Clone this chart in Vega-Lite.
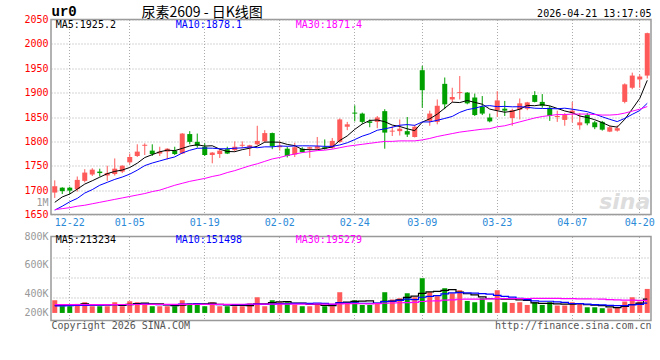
{
"$schema": "https://vega.github.io/schema/vega-lite/v6.json",
"background": "white",
"padding": {"left": 23, "top": 2.5, "right": 5, "bottom": 5},
"bounds": "flush",
"spacing": 22,
"data": {"values": [
{"d":"12-18","o":1695,"h":1720,"l":1684,"c":1708,"v":197000,"m5":1675,"m10":1659,"m30":1660,"vm5":115000,"vm10":108000,"vm30":128000},
{"d":"12-19","o":1705,"h":1706,"l":1692,"c":1698,"v":104000,"m5":1686,"m10":1667,"m30":1662,"vm5":118000,"vm10":110000,"vm30":128000},
{"d":"12-22","o":1705,"h":1707,"l":1692,"c":1699,"v":104000,"m5":1692,"m10":1676,"m30":1664,"vm5":120000,"vm10":112000,"vm30":128000},
{"d":"12-23","o":1702,"h":1728,"l":1697,"c":1721,"v":140000,"m5":1702,"m10":1683,"m30":1667,"vm5":130000,"vm10":115000,"vm30":129000},
{"d":"12-24","o":1719,"h":1743,"l":1716,"c":1736,"v":166000,"m5":1712.4,"m10":1694,"m30":1669,"vm5":142200,"vm10":118000,"vm30":129000},
{"d":"12-25","o":1732,"h":1745,"l":1729,"c":1742,"v":104000,"m5":1719.2,"m10":1701,"m30":1672,"vm5":123600,"vm10":120000,"vm30":129000},
{"d":"12-26","o":1738,"h":1744,"l":1728,"c":1735,"v":104000,"m5":1726.6,"m10":1710,"m30":1675,"vm5":123600,"vm10":122000,"vm30":130000},
{"d":"12-29","o":1730,"h":1750,"l":1719,"c":1735,"v":104000,"m5":1733.8,"m10":1716,"m30":1678,"vm5":123600,"vm10":125000,"vm30":130000},
{"d":"12-30","o":1733,"h":1765,"l":1730,"c":1744,"v":166000,"m5":1738.4,"m10":1722,"m30":1681,"vm5":128800,"vm10":128000,"vm30":130000},
{"d":"12-31","o":1738,"h":1751,"l":1735,"c":1750,"v":104000,"m5":1741.2,"m10":1726.8,"m30":1684,"vm5":116400,"vm10":129300,"vm30":131000},
{"d":"01-05","o":1757,"h":1775,"l":1753,"c":1768,"v":181000,"m5":1746.4,"m10":1732.8,"m30":1687,"vm5":131800,"vm10":127700,"vm30":131000},
{"d":"01-06","o":1770,"h":1794,"l":1768,"c":1779,"v":166000,"m5":1755.2,"m10":1740.9,"m30":1690,"vm5":144200,"vm10":133900,"vm30":131000},
{"d":"01-07","o":1791,"h":1796,"l":1772,"c":1793,"v":150000,"m5":1766.8,"m10":1750.3,"m30":1693,"vm5":153400,"vm10":138500,"vm30":132000},
{"d":"01-08","o":1781,"h":1794,"l":1770,"c":1774,"v":104000,"m5":1772.8,"m10":1755.6,"m30":1697,"vm5":141000,"vm10":134900,"vm30":132000},
{"d":"01-09","o":1775,"h":1789,"l":1770,"c":1779,"v":104000,"m5":1778.6,"m10":1759.9,"m30":1700,"vm5":141000,"vm10":128700,"vm30":132000},
{"d":"01-12","o":1779,"h":1786,"l":1763,"c":1785,"v":104000,"m5":1782,"m10":1764.2,"m30":1705,"vm5":125600,"vm10":128700,"vm30":132000},
{"d":"01-13","o":1781,"h":1789,"l":1772,"c":1774,"v":104000,"m5":1781,"m10":1768.1,"m30":1710,"vm5":113200,"vm10":128700,"vm30":133000},
{"d":"01-14","o":1775,"h":1817,"l":1774,"c":1816,"v":197000,"m5":1785.6,"m10":1776.2,"m30":1714,"vm5":122600,"vm10":138000,"vm30":133000},
{"d":"01-15","o":1815,"h":1821,"l":1794,"c":1799,"v":150000,"m5":1790.6,"m10":1781.7,"m30":1718,"vm5":131800,"vm10":136400,"vm30":133000},
{"d":"01-16","o":1799,"h":1816,"l":1787,"c":1791,"v":150000,"m5":1793,"m10":1785.8,"m30":1721,"vm5":141000,"vm10":141000,"vm30":133000},
{"d":"01-19","o":1789,"h":1796,"l":1770,"c":1772,"v":104000,"m5":1790.4,"m10":1786.2,"m30":1724,"vm5":141000,"vm10":133300,"vm30":134000},
{"d":"01-20","o":1772,"h":1778,"l":1755,"c":1777,"v":166000,"m5":1791,"m10":1786,"m30":1728,"vm5":153400,"vm10":133300,"vm30":134000},
{"d":"01-21","o":1774,"h":1785,"l":1766,"c":1781,"v":104000,"m5":1784,"m10":1784.8,"m30":1731,"vm5":134800,"vm10":128700,"vm30":134000},
{"d":"01-22","o":1784,"h":1789,"l":1774,"c":1775,"v":104000,"m5":1779.2,"m10":1784.9,"m30":1736,"vm5":125600,"vm10":128700,"vm30":134000},
{"d":"01-23","o":1782,"h":1800,"l":1779,"c":1789,"v":104000,"m5":1778.8,"m10":1785.9,"m30":1740,"vm5":116400,"vm10":128700,"vm30":135000},
{"d":"01-26","o":1791,"h":1800,"l":1786,"c":1793,"v":104000,"m5":1783,"m10":1786.7,"m30":1745,"vm5":116400,"vm10":128700,"vm30":135000},
{"d":"01-27","o":1787,"h":1793,"l":1770,"c":1792,"v":150000,"m5":1786,"m10":1788.5,"m30":1750,"vm5":113200,"vm10":133300,"vm30":135000},
{"d":"01-28","o":1794,"h":1832,"l":1792,"c":1801,"v":243000,"m5":1790,"m10":1787,"m30":1754,"vm5":141000,"vm10":137900,"vm30":136000},
{"d":"01-29","o":1800,"h":1823,"l":1798,"c":1817,"v":104000,"m5":1798.4,"m10":1788.8,"m30":1759,"vm5":141000,"vm10":133300,"vm30":136000},
{"d":"01-30","o":1817,"h":1818,"l":1784,"c":1790,"v":197000,"m5":1798.6,"m10":1788.7,"m30":1764,"vm5":159600,"vm10":138000,"vm30":136100},
{"d":"02-02","o":1788,"h":1800,"l":1781,"c":1791,"v":166000,"m5":1798.2,"m10":1790.6,"m30":1767,"vm5":172000,"vm10":144200,"vm30":135100},
{"d":"02-03","o":1785,"h":1789,"l":1767,"c":1770,"v":166000,"m5":1793.8,"m10":1789.9,"m30":1771,"vm5":175200,"vm10":144200,"vm30":137100},
{"d":"02-04","o":1773,"h":1797,"l":1768,"c":1788,"v":130000,"m5":1791.2,"m10":1790.6,"m30":1774,"vm5":152600,"vm10":146800,"vm30":138000},
{"d":"02-05","o":1785,"h":1788,"l":1777,"c":1778,"v":104000,"m5":1783.4,"m10":1790.9,"m30":1777,"vm5":152600,"vm10":146800,"vm30":136800},
{"d":"02-06","o":1785,"h":1789,"l":1766,"c":1788,"v":104000,"m5":1783,"m10":1790.8,"m30":1779,"vm5":134000,"vm10":146800,"vm30":134700},
{"d":"02-09","o":1785,"h":1809,"l":1783,"c":1790,"v":150000,"m5":1782.8,"m10":1790.5,"m30":1781,"vm5":130800,"vm10":151400,"vm30":136300},
{"d":"02-10","o":1788,"h":1804,"l":1783,"c":1785,"v":104000,"m5":1785.8,"m10":1789.8,"m30":1782,"vm5":118400,"vm10":146800,"vm30":136300},
{"d":"02-11","o":1787,"h":1807,"l":1785,"c":1801,"v":104000,"m5":1788.4,"m10":1789.8,"m30":1784,"vm5":113200,"vm10":132900,"vm30":136300},
{"d":"02-12","o":1799,"h":1847,"l":1797,"c":1845,"v":321000,"m5":1801.8,"m10":1792.6,"m30":1787,"vm5":156600,"vm10":154600,"vm30":141400},
{"d":"02-13","o":1830,"h":1840,"l":1823,"c":1835,"v":166000,"m5":1811.2,"m10":1797.1,"m30":1790,"vm5":169000,"vm10":151500,"vm30":143500},
{"d":"02-24","o":1859,"h":1874,"l":1841,"c":1857,"v":197000,"m5":1824.6,"m10":1803.7,"m30":1792,"vm5":178400,"vm10":154600,"vm30":144000},
{"d":"02-25","o":1857,"h":1859,"l":1836,"c":1840,"v":124000,"m5":1835.6,"m10":1810.7,"m30":1794,"vm5":182400,"vm10":150400,"vm30":142600},
{"d":"02-26","o":1841,"h":1845,"l":1829,"c":1838,"v":124000,"m5":1843,"m10":1815.7,"m30":1796,"vm5":186400,"vm10":149800,"vm30":141800},
{"d":"02-27","o":1840,"h":1852,"l":1827,"c":1849,"v":140000,"m5":1843.8,"m10":1822.8,"m30":1798,"vm5":150200,"vm10":153400,"vm30":143000},
{"d":"03-02","o":1862,"h":1866,"l":1785,"c":1818,"v":321000,"m5":1840.4,"m10":1825.8,"m30":1800,"vm5":181200,"vm10":175100,"vm30":150200},
{"d":"03-03","o":1820,"h":1831,"l":1811,"c":1822,"v":208000,"m5":1833.4,"m10":1829,"m30":1800,"vm5":183400,"vm10":180900,"vm30":153700},
{"d":"03-04","o":1821,"h":1845,"l":1812,"c":1826,"v":228000,"m5":1830.6,"m10":1833.1,"m30":1801,"vm5":204200,"vm10":193300,"vm30":157800},
{"d":"03-05","o":1821,"h":1850,"l":1809,"c":1814,"v":305000,"m5":1825.8,"m10":1834.4,"m30":1801,"vm5":240400,"vm10":213400,"vm30":161400},
{"d":"03-06","o":1809,"h":1834,"l":1808,"c":1830,"v":243000,"m5":1822,"m10":1832.9,"m30":1801,"vm5":261000,"vm10":205600,"vm30":164500},
{"d":"03-09","o":1946,"h":1955,"l":1869,"c":1905,"v":538000,"m5":1839.4,"m10":1839.9,"m30":1803,"vm5":304400,"vm10":242800,"vm30":177400},
{"d":"03-10","o":1842,"h":1863,"l":1832,"c":1857,"v":321000,"m5":1846.4,"m10":1839.9,"m30":1806,"vm5":327000,"vm10":255200,"vm30":184700},
{"d":"03-11","o":1840,"h":1886,"l":1835,"c":1873,"v":259000,"m5":1855.8,"m10":1843.2,"m30":1810,"vm5":333200,"vm10":268700,"vm30":187800},
{"d":"03-12","o":1918,"h":1931,"l":1866,"c":1876,"v":383000,"m5":1868.2,"m10":1847,"m30":1813,"vm5":348800,"vm10":294600,"vm30":197100},
{"d":"03-13","o":1886,"h":1910,"l":1880,"c":1891,"v":305000,"m5":1880.4,"m10":1851.2,"m30":1816,"vm5":361200,"vm10":311100,"vm30":203800},
{"d":"03-16","o":1899,"h":1934,"l":1886,"c":1901,"v":352000,"m5":1879.6,"m10":1859.5,"m30":1819,"vm5":324000,"vm10":314200,"vm30":212000},
{"d":"03-17","o":1900,"h":1901,"l":1876,"c":1878,"v":186000,"m5":1883.8,"m10":1865.1,"m30":1821,"vm5":297000,"vm10":312000,"vm30":214800},
{"d":"03-18","o":1890,"h":1898,"l":1852,"c":1854,"v":166000,"m5":1880,"m10":1867.9,"m30":1823,"vm5":278400,"vm10":305800,"vm30":215300},
{"d":"03-19","o":1871,"h":1893,"l":1854,"c":1857,"v":228000,"m5":1876.2,"m10":1872.2,"m30":1825,"vm5":247400,"vm10":298100,"vm30":214800},
{"d":"03-20","o":1849,"h":1857,"l":1839,"c":1841,"v":166000,"m5":1866.2,"m10":1873.3,"m30":1826,"vm5":219600,"vm10":290400,"vm30":216900},
{"d":"03-23","o":1864,"h":1903,"l":1850,"c":1884,"v":352000,"m5":1862.8,"m10":1871.2,"m30":1830,"vm5":219600,"vm10":271800,"vm30":222000},
{"d":"03-24","o":1867,"h":1883,"l":1852,"c":1863,"v":166000,"m5":1859.8,"m10":1871.8,"m30":1832,"vm5":215600,"vm10":256300,"vm30":222000},
{"d":"03-25","o":1848,"h":1867,"l":1832,"c":1864,"v":155000,"m5":1861.8,"m10":1870.9,"m30":1836,"vm5":213400,"vm10":245900,"vm30":221700},
{"d":"03-26","o":1865,"h":1888,"l":1845,"c":1878,"v":166000,"m5":1866,"m10":1871.1,"m30":1840,"vm5":201000,"vm10":224200,"vm30":222900},
{"d":"03-27","o":1867,"h":1881,"l":1864,"c":1880,"v":124000,"m5":1873.8,"m10":1870,"m30":1844,"vm5":192600,"vm10":206100,"vm30":223500},
{"d":"03-30","o":1895,"h":1903,"l":1880,"c":1881,"v":166000,"m5":1873.2,"m10":1868,"m30":1848,"vm5":155400,"vm10":187500,"vm30":225600},
{"d":"03-31","o":1881,"h":1897,"l":1869,"c":1873,"v":124000,"m5":1875.2,"m10":1867.5,"m30":1851,"vm5":147000,"vm10":181300,"vm30":224700},
{"d":"04-01","o":1869,"h":1873,"l":1842,"c":1852,"v":166000,"m5":1872.8,"m10":1867.3,"m30":1853,"vm5":149200,"vm10":181300,"vm30":226800},
{"d":"04-02","o":1850,"h":1863,"l":1840,"c":1852,"v":115000,"m5":1867.6,"m10":1866.8,"m30":1855,"vm5":139000,"vm10":170000,"vm30":227200},
{"d":"04-03","o":1844,"h":1858,"l":1832,"c":1854,"v":115000,"m5":1862.4,"m10":1868.1,"m30":1855,"vm5":137200,"vm10":164900,"vm30":220300},
{"d":"04-07","o":1858,"h":1881,"l":1839,"c":1863,"v":166000,"m5":1858.8,"m10":1866,"m30":1856,"vm5":137200,"vm10":146300,"vm30":220300},
{"d":"04-08","o":1833,"h":1858,"l":1824,"c":1839,"v":150000,"m5":1852,"m10":1863.6,"m30":1856,"vm5":142400,"vm10":144700,"vm30":218700},
{"d":"04-09","o":1854,"h":1858,"l":1833,"c":1837,"v":88000,"m5":1849,"m10":1860.9,"m30":1856,"vm5":126800,"vm10":138000,"vm30":217500},
{"d":"04-10","o":1839,"h":1842,"l":1825,"c":1829,"v":88000,"m5":1844.4,"m10":1856,"m30":1855,"vm5":121400,"vm10":130200,"vm30":216300},
{"d":"04-13","o":1840,"h":1842,"l":1822,"c":1824,"v":73000,"m5":1838.4,"m10":1850.4,"m30":1854,"vm5":113000,"vm10":125100,"vm30":214100},
{"d":"04-14","o":1820,"h":1832,"l":1819,"c":1829,"v":73000,"m5":1831.6,"m10":1845.2,"m30":1854,"vm5":94400,"vm10":115800,"vm30":205800},
{"d":"04-15","o":1822,"h":1833,"l":1820,"c":1827,"v":88000,"m5":1829.2,"m10":1840.6,"m30":1855,"vm5":82000,"vm10":112200,"vm30":201800},
{"d":"04-16","o":1881,"h":1919,"l":1878,"c":1917,"v":177000,"m5":1845.2,"m10":1847.1,"m30":1858,"vm5":99800,"vm10":113300,"vm30":200100},
{"d":"04-17","o":1910,"h":1941,"l":1907,"c":1935,"v":243000,"m5":1866.4,"m10":1855.4,"m30":1862,"vm5":130800,"vm10":126100,"vm30":198100},
{"d":"04-20","o":1927,"h":1937,"l":1910,"c":1933,"v":177000,"m5":1888.2,"m10":1863.3,"m30":1866,"vm5":151600,"vm10":132300,"vm30":195900},
{"d":"04-21","o":1935,"h":2023,"l":1929,"c":2022,"v":372000,"m5":1925.2,"m10":1878.1,"m30":1871.4,"vm5":213234,"vm10":151498,"vm30":195279}
]},
"config": {
  "view": {"stroke": "#999999", "strokeWidth": 1.5},
  "font": "DejaVu Sans Mono",
  "axis": {"labelFont": "DejaVu Sans Mono", "labelFontSize": 10, "titleFont": "DejaVu Sans Mono", "titleFontSize": 10, "titleFontWeight": "normal", "gridColor": "#aaaaaa", "gridDash": [1, 2], "gridWidth": 1, "ticks": false, "domain": false, "labelOverlap": false},
  "text": {"font": "DejaVu Sans Mono", "fontSize": 10}
},
"vconcat": [
{
  "width": 600, "height": 195,
  "resolve": {"axis": {"y": "independent"}},
  "encoding": {
    "x": {"field": "d", "type": "ordinal",
      "scale": {"domain": ["12-18","12-19","12-22","12-23","12-24","12-25","12-26","12-29","12-30","12-31","01-05","01-06","01-07","01-08","01-09","01-12","01-13","01-14","01-15","01-16","01-19","01-20","01-21","01-22","01-23","01-26","01-27","01-28","01-29","01-30","02-02","02-03","02-04","02-05","02-06","02-09","02-10","02-11","02-12","02-13","02-24","02-25","02-26","02-27","03-02","03-03","03-04","03-05","03-06","03-09","03-10","03-11","03-12","03-13","03-16","03-17","03-18","03-19","03-20","03-23","03-24","03-25","03-26","03-27","03-30","03-31","04-01","04-02","04-03","04-07","04-08","04-09","04-10","04-13","04-14","04-15","04-16","04-17","04-20","04-21"], "paddingInner": 0, "paddingOuter": 0},
      "axis": {"values": ["12-22","01-05","01-19","02-02","02-24","03-09","03-23","04-07","04-20"], "grid": true, "labelAngle": 0, "labelColor": "#2a8ad8", "labelPadding": 3,
        "title": "2026-04-21 13:17:05", "titleX": 600, "titleY": -200.8, "titleAlign": "right", "titleBaseline": "middle", "titleColor": "#000000"}}
  },
  "layer": [
    {"mark": {"type": "rule", "strokeWidth": 1},
     "encoding": {
       "y": {"field": "l", "type": "quantitative", "scale": {"domain": [1650, 2050], "nice": false, "zero": false},
         "axis": {"values": [1650, 1700, 1750, 1800, 1850, 1900, 1950, 2000, 2050], "format": "d", "grid": true, "labelOverlap": false, "labelPadding": 3, "labelColor": "#ff0000",
           "title": "ur0", "titleAngle": 0, "titleX": 0, "titleY": -8.5, "titleAlign": "left", "titleBaseline": "middle", "titleFont": "Liberation Mono", "titleFontSize": 14, "titleFontWeight": "bold", "titleColor": "#000000"}},
       "y2": {"field": "h"},
       "color": {"condition": {"test": "datum.c >= datum.o", "value": "#ff5a5a"}, "value": "#00a000"}}},
    {"mark": {"type": "bar", "size": 5},
     "encoding": {
       "y": {"field": "o", "type": "quantitative",
         "axis": {"orient": "left", "values": [1673.6], "labelExpr": "'1M'", "grid": false, "labelOverlap": false, "labelPadding": 3, "labelColor": "#999999",
           "title": "尿素2609 - 日K线图", "titleAngle": 0, "titleX": 90, "titleY": -7.5, "titleAlign": "left", "titleBaseline": "middle", "titleFont": "Noto Sans CJK SC", "titleFontSize": 14, "titleFontWeight": "normal", "titleColor": "#000000"}},
       "y2": {"field": "c"},
       "color": {"condition": {"test": "datum.c >= datum.o", "value": "#ff5a5a"}, "value": "#00a000"}}},
    {"mark": {"type": "line", "color": "#000000", "strokeWidth": 1}, "encoding": {"y": {"field": "m5", "type": "quantitative", "axis": null}}},
    {"mark": {"type": "line", "color": "#0000ff", "strokeWidth": 1}, "encoding": {"y": {"field": "m10", "type": "quantitative", "axis": null}}},
    {"mark": {"type": "line", "color": "#ff00ff", "strokeWidth": 1}, "encoding": {"y": {"field": "m30", "type": "quantitative", "axis": null}}},
    {"data": {"values": [{}]}, "mark": {"type": "text", "align": "left", "baseline": "middle", "dx": 1, "color": "#000000"},
     "encoding": {"x": {"datum": "12-18", "type": "ordinal"}, "y": {"datum": 2038.7, "type": "quantitative", "axis": null}, "text": {"value": "MA5:1925.2"}}},
    {"data": {"values": [{}]}, "mark": {"type": "text", "align": "left", "baseline": "middle", "dx": 1, "color": "#0000ff"},
     "encoding": {"x": {"datum": "01-13", "type": "ordinal"}, "y": {"datum": 2038.7, "type": "quantitative", "axis": null}, "text": {"value": "MA10:1878.1"}}},
    {"data": {"values": [{}]}, "mark": {"type": "text", "align": "left", "baseline": "middle", "dx": 1, "color": "#ff00ff"},
     "encoding": {"x": {"datum": "02-04", "type": "ordinal"}, "y": {"datum": 2038.7, "type": "quantitative", "axis": null}, "text": {"value": "MA30:1871.4"}}},
    {"data": {"values": [{}]}, "mark": {"type": "text", "align": "center", "baseline": "middle", "fontSize": 22, "fontStyle": "italic", "fontWeight": "bold", "font": "DejaVu Sans", "color": "#dddddd"},
     "encoding": {"x": {"datum": "04-16", "type": "ordinal"}, "y": {"datum": 1675, "type": "quantitative", "axis": null}, "text": {"value": "sina"}}}
  ]
},
{
  "width": 600, "height": 84,
  "resolve": {"axis": {"y": "independent"}},
  "encoding": {
    "x": {"field": "d", "type": "ordinal",
      "scale": {"domain": ["12-18","12-19","12-22","12-23","12-24","12-25","12-26","12-29","12-30","12-31","01-05","01-06","01-07","01-08","01-09","01-12","01-13","01-14","01-15","01-16","01-19","01-20","01-21","01-22","01-23","01-26","01-27","01-28","01-29","01-30","02-02","02-03","02-04","02-05","02-06","02-09","02-10","02-11","02-12","02-13","02-24","02-25","02-26","02-27","03-02","03-03","03-04","03-05","03-06","03-09","03-10","03-11","03-12","03-13","03-16","03-17","03-18","03-19","03-20","03-23","03-24","03-25","03-26","03-27","03-30","03-31","04-01","04-02","04-03","04-07","04-08","04-09","04-10","04-13","04-14","04-15","04-16","04-17","04-20","04-21"], "paddingInner": 0, "paddingOuter": 0},
      "axis": {"values": ["12-22","01-05","01-19","02-02","02-24","03-09","03-23","04-07","04-20"], "grid": true, "labels": false,
        "title": "Copyright 2026 SINA.COM", "titleX": 0, "titleY": 5, "titleAlign": "left", "titleBaseline": "middle", "titleColor": "#555555"}}
  },
  "layer": [
    {"mark": {"type": "bar", "size": 5},
     "encoding": {
       "y": {"field": "v", "type": "quantitative", "scale": {"domain": [-117000, 1184000], "nice": false, "zero": false},
         "axis": {"values": [12000, 306000, 755000, 1184000], "grid": false, "labelOverlap": false, "labelPadding": 3, "labelColor": "#999999",
           "labelExpr": "datum.value == 1184000 ? '800K' : datum.value == 755000 ? '600K' : datum.value == 306000 ? '400K' : '200K'",
           "title": "http://finance.sina.com.cn", "titleAngle": 0, "titleX": 600, "titleY": 89, "titleAlign": "right", "titleBaseline": "middle", "titleColor": "#555555"}},
       "y2": {"datum": 0},
       "color": {"condition": {"test": "datum.c >= datum.o", "value": "#ff5a5a"}, "value": "#00a000"}}},
    {"mark": {"type": "line", "color": "#000000", "strokeWidth": 1.2, "interpolate": "step"},
     "encoding": {"y": {"field": "vm5", "type": "quantitative",
       "axis": {"orient": "right", "values": [232000, 549000, 863000], "grid": true, "labels": false, "title": null}}}},
    {"mark": {"type": "line", "color": "#0000ff", "strokeWidth": 1.2, "interpolate": "step"}, "encoding": {"y": {"field": "vm10", "type": "quantitative", "axis": null}}},
    {"mark": {"type": "line", "color": "#ff00ff", "strokeWidth": 1.2, "interpolate": "step"}, "encoding": {"y": {"field": "vm30", "type": "quantitative", "axis": null}}},
    {"data": {"values": [{}]}, "mark": {"type": "text", "align": "left", "baseline": "middle", "dx": 1, "color": "#000000"},
     "encoding": {"x": {"datum": "12-18", "type": "ordinal"}, "y": {"datum": 1126700, "type": "quantitative", "axis": null}, "text": {"value": "MA5:213234"}}},
    {"data": {"values": [{}]}, "mark": {"type": "text", "align": "left", "baseline": "middle", "dx": 1, "color": "#0000ff"},
     "encoding": {"x": {"datum": "01-13", "type": "ordinal"}, "y": {"datum": 1126700, "type": "quantitative", "axis": null}, "text": {"value": "MA10:151498"}}},
    {"data": {"values": [{}]}, "mark": {"type": "text", "align": "left", "baseline": "middle", "dx": 1, "color": "#ff00ff"},
     "encoding": {"x": {"datum": "02-04", "type": "ordinal"}, "y": {"datum": 1126700, "type": "quantitative", "axis": null}, "text": {"value": "MA30:195279"}}}
  ]
}
]
}
